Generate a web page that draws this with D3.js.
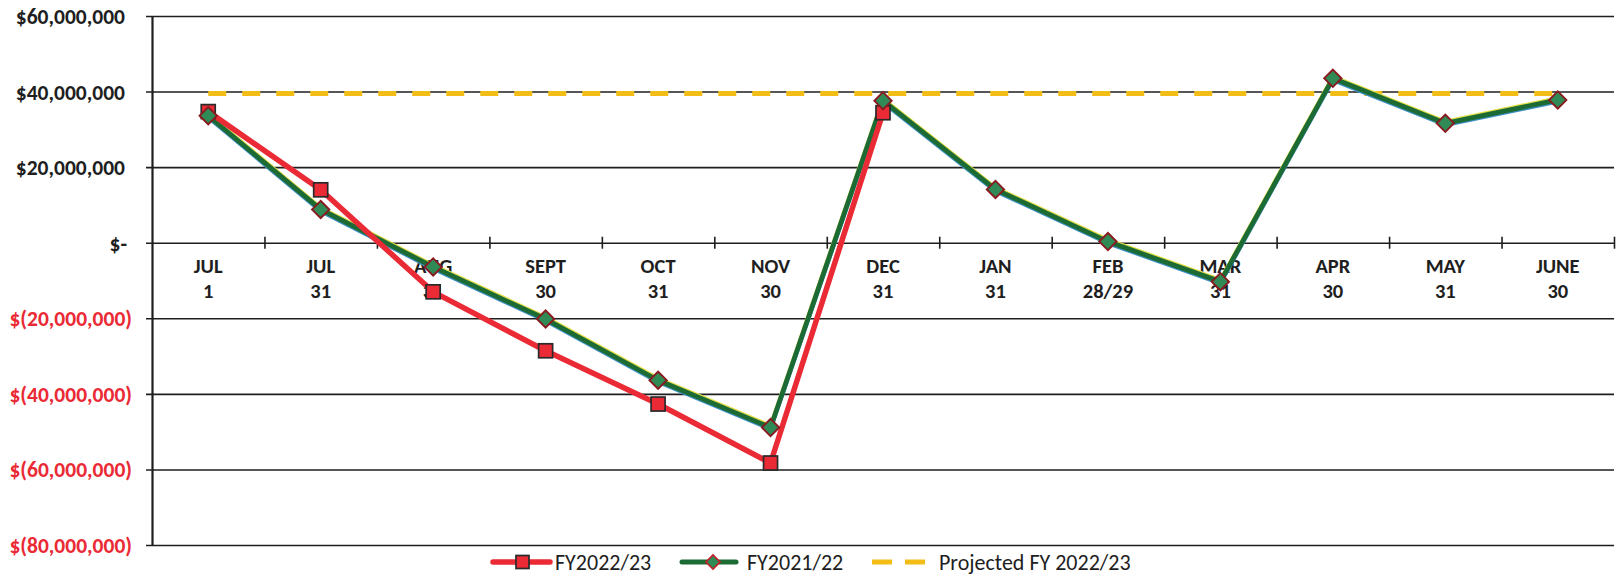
<!DOCTYPE html>
<html>
<head>
<meta charset="utf-8">
<script src="https://cdn.jsdelivr.net/npm/d3@7"></script>
<style>
  html, body { margin: 0; padding: 0; background: #fff; }
  #chart { width: 1617px; height: 576px; }
  text { font-family: Carlito, Lato, "Open Sans", sans-serif; }
</style>
</head>
<body>
<div id="chart"></div>
<script>
(function(){
    // categories: month + day (two-line tick labels)
    var months = ['JUL', 'JUL', 'AUG', 'SEPT', 'OCT', 'NOV', 'DEC', 'JAN', 'FEB', 'MAR', 'APR', 'MAY', 'JUNE'];
    var days   = ['1', '31', '31', '30', '31', '30', '31', '31', '28/29', '31', '30', '31', '30'];

    // values in dollars
    var fy2223 = [34700000, 14000000, -13000000, -28600000, -42700000, -58300000, 34400000];
    var fy2122 = [33600000, 8800000, -6400000, -20200000, -36400000, -48900000, 37600000,
                  14100000, 300000, -10300000, 43500000, 31600000, 37800000];
    var projected = [39500000, 39500000, 39500000, 39500000, 39500000, 39500000, 39500000,
                     39500000, 39500000, 39500000, 39500000, 39500000, 39500000];

    var yTicks = [60000000, 40000000, 20000000, 0, -20000000, -40000000, -60000000, -80000000];

    var margin = { top: 16, right: 3, bottom: 31, left: 152 };
    var totalWidth = 1617, totalHeight = 576;
    var width = totalWidth - margin.left - margin.right;
    var height = totalHeight - margin.top - margin.bottom;

    var svg = d3.select('#chart')
        .append('svg')
        .attr('width', totalWidth)
        .attr('height', totalHeight)
        .append('g')
        .attr('transform', 'translate(' + margin.left + ',' + margin.top + ')');

    var idx = d3.range(months.length);
    var x = d3.scaleBand().domain(idx).range([0, width]).padding(0);
    var xEdge = d3.scaleLinear().domain([0, months.length]).range([0, width]);
    var y = d3.scaleLinear().domain([-80000000, 60000000]).range([height, 0]);
    function cx(i) { return x(i) + x.bandwidth() / 2; }

    var ink = '#1e1e1e';
    var red = '#ea2a35';

    // horizontal grid lines
    var grid = svg.append('g')
        .call(d3.axisLeft(y).tickValues(yTicks).tickSize(-width).tickFormat(''));
    grid.select('.domain').remove();
    grid.selectAll('line').attr('stroke', ink).attr('stroke-width', 1.6).attr('x1', -6);

    // y axis with accounting style labels
    function money(v) {
        if (v === 0) return '$-';
        var s = d3.format(',')(Math.abs(v));
        return v < 0 ? '$(' + s + ')' : '$' + s;
    }
    var yAxisG = svg.append('g')
        .call(d3.axisLeft(y).tickValues(yTicks).tickSize(0).tickFormat(money));
    yAxisG.select('.domain').attr('stroke', ink).attr('stroke-width', 2.2);
    yAxisG.selectAll('text')
        .attr('x', function(d){ return d < 0 ? -20 : (d === 0 ? -25 : -27); })
        .attr('dy', '0.35em')
        .style('font-size', '21.5px')
        .style('font-weight', 700)
        .attr('fill', function(d){ return d < 0 ? red : ink; });

    // x axis along zero: tick marks at category edges
    var xTickG = svg.append('g')
        .attr('transform', 'translate(0,' + y(0) + ')')
        .call(d3.axisBottom(xEdge).tickValues(d3.range(1, months.length + 1)).tickSize(6).tickFormat(''));
    xTickG.select('.domain').remove();
    xTickG.selectAll('line').attr('stroke', ink).attr('stroke-width', 1.6).attr('y1', -6);

    // category labels (two lines)
    var xLab = svg.append('g')
        .attr('transform', 'translate(0,' + y(0) + ')')
        .call(d3.axisBottom(x).tickSize(0).tickFormat(''));
    xLab.select('.domain').remove();
    xLab.selectAll('.tick').each(function(i){
        var t = d3.select(this).append('text')
            .attr('fill', ink)
            .attr('text-anchor', 'middle')
            .style('font-size', '20.5px')
            .style('font-weight', 700);
        t.append('tspan').attr('x', 0).attr('y', 30).text(months[i]);
        t.append('tspan').attr('x', 0).attr('y', 55).text(days[i]);
    });

    // projected dashed line
    var line = d3.line()
        .x(function(d, i){ return cx(i); })
        .y(function(d){ return y(d); });

    svg.append('path')
        .datum(projected)
        .attr('fill', 'none')
        .attr('stroke', '#f2bd17')
        .attr('stroke-width', 5)
        .attr('stroke-dasharray', '18 16')
        .attr('d', line);

    // FY2021/22 green line with slight scan fringes
    var offLine = function(dy) {
        return d3.line().x(function(d, i){ return cx(i); }).y(function(d){ return y(d) + dy; });
    };
    svg.append('path').datum(fy2122).attr('fill', 'none').attr('stroke', '#3a8fc0')
        .attr('stroke-width', 4).attr('stroke-linejoin', 'round').attr('d', offLine(1.7));
    svg.append('path').datum(fy2122).attr('fill', 'none').attr('stroke', '#e5e04a')
        .attr('stroke-width', 4).attr('stroke-linejoin', 'round').attr('d', offLine(-1.7));
    svg.append('path').datum(fy2122).attr('fill', 'none').attr('stroke', '#1d6b34')
        .attr('stroke-width', 4.8).attr('stroke-linejoin', 'round').attr('d', line);

    // FY2022/23 red line
    svg.append('path').datum(fy2223).attr('fill', 'none').attr('stroke', red)
        .attr('stroke-width', 5.5).attr('stroke-linejoin', 'round').attr('d', line);

    // markers: red squares
    svg.selectAll('.sq').data(fy2223).enter().append('rect')
        .attr('class', 'sq')
        .attr('x', function(d, i){ return cx(i) - 7; })
        .attr('y', function(d){ return y(d) - 7; })
        .attr('width', 14).attr('height', 14)
        .attr('fill', red).attr('stroke', '#2a2a2a').attr('stroke-width', 1.7);

    // markers: green diamonds
    var dia = d3.symbol().type(d3.symbolSquare).size(150);
    svg.selectAll('.dm').data(fy2122).enter().append('path')
        .attr('class', 'dm')
        .attr('d', dia)
        .attr('transform', function(d, i){ return 'translate(' + cx(i) + ',' + y(d) + ') rotate(45)'; })
        .attr('fill', '#2f8a55').attr('stroke', '#8a1a20').attr('stroke-width', 1.9);

    // legend
    var legendItems = [
        { name: 'FY2022/23', kind: 'sq' },
        { name: 'FY2021/22', kind: 'dm' },
        { name: 'Projected FY 2022/23', kind: 'dash' }
    ];
    var legendX = [493, 682, 872];
    var legend = svg.append('g').attr('transform', 'translate(' + (-margin.left) + ',' + (562 - margin.top) + ')');
    legendItems.forEach(function(it, i){
        var g = legend.append('g').attr('transform', 'translate(' + legendX[i] + ',0)');
        var textX;
        if (it.kind === 'sq') {
            g.append('line').attr('x1', 0).attr('x2', 57).attr('stroke', red).attr('stroke-width', 5.5).attr('stroke-linecap', 'round');
            g.append('rect').attr('x', 23).attr('y', -6.5).attr('width', 13).attr('height', 13)
                .attr('fill', red).attr('stroke', '#2a2a2a').attr('stroke-width', 1.7);
            textX = 62;
        } else if (it.kind === 'dm') {
            g.append('line').attr('x1', 0).attr('x2', 54).attr('stroke', '#1d6b34').attr('stroke-width', 5).attr('stroke-linecap', 'round');
            g.append('path').attr('d', d3.symbol().type(d3.symbolSquare).size(100))
                .attr('transform', 'translate(31,0) rotate(45)')
                .attr('fill', '#2f8a55').attr('stroke', '#c41e28').attr('stroke-width', 1.6);
            textX = 65;
        } else {
            g.append('line').attr('x1', 0).attr('x2', 56).attr('stroke', '#f2bd17').attr('stroke-width', 5)
                .attr('stroke-dasharray', '20 13');
            textX = 67;
        }
        g.append('text').attr('x', textX).attr('dy', '0.35em')
            .attr('fill', ink)
            .style('font-size', '22px')
            .text(it.name);
    });
})();
</script>
</body>
</html>
